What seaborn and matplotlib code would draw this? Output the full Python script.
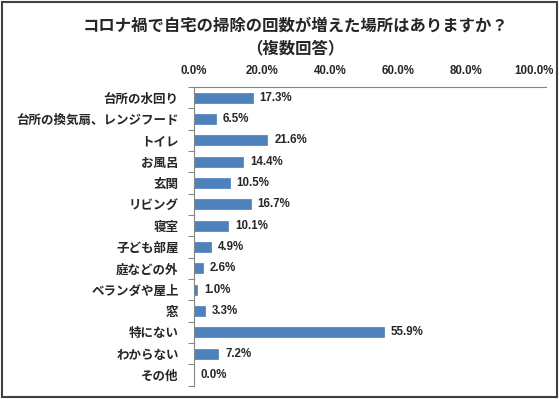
import matplotlib
matplotlib.use("Agg")
import matplotlib.pyplot as plt
import seaborn as sns
import pandas as pd
from matplotlib.patches import Rectangle

# ===== データ =====
categories = ['台所の水回り', '台所の換気扇、レンジフード', 'トイレ', 'お風呂', '玄関',
              'リビング', '寝室', '子ども部屋', '庭などの外', 'ベランダや屋上',
              '窓', '特にない', 'わからない', 'その他']
values = [17.3, 6.5, 21.6, 14.4, 10.5, 16.7, 10.1, 4.9, 2.6, 1.0, 3.3, 55.9, 7.2, 0.0]
x_ticks = [0, 20, 40, 60, 80, 100]
title_lines = ['コロナ禍で自宅の掃除の回数が増えた場所はありますか？', '（複数回答）']

sns.set_theme(style="white")
plt.rcParams['font.family'] = ['Noto Sans CJK JP', 'DejaVu Sans']

df = pd.DataFrame({'cat': categories, 'val': values})

fig = plt.figure(figsize=(5.59, 3.99), dpi=100)
ax = fig.add_axes([0.347, 0.033, 0.977 - 0.347, 0.782 - 0.033])

sns.barplot(data=df, y='cat', x='val', orient='h', color='#4F81BD',
            width=0.47, edgecolor='#4A7EBB', linewidth=0.5, ax=ax, saturation=1)

ax.set_xlim(0, 103.5)
ax.set_xticks(x_ticks)
ax.set_xticklabels([f'{t:.1f}%' for t in x_ticks], fontsize=8.3, fontweight='bold',
                   family=['Liberation Sans', 'DejaVu Sans'])
ax.xaxis.tick_top()
ax.tick_params(axis='x', length=0, pad=7)
ax.set_ylim(len(categories) - 0.5, -0.5)
ax.set_yticks(range(len(categories)))
ax.set_yticklabels(categories, fontsize=9, fontweight='bold')
ax.tick_params(axis='y', length=0, pad=11)
# 区切りの目盛り
ax.set_yticks([i - 0.5 for i in range(len(categories) + 1)], minor=True)
ax.tick_params(axis='y', which='minor', left=True, length=4, color='#868686', width=0.8)
ax.set_xlabel('')
ax.set_ylabel('')

for s in ['right', 'bottom']:
    ax.spines[s].set_visible(False)
for s in ['top', 'left']:
    ax.spines[s].set_color('#868686')
    ax.spines[s].set_linewidth(0.8)

for i, v in enumerate(values):
    ax.text(v + 2.0, i, f'{v:.1f}%', va='center', ha='left', fontsize=8.3,
            fontweight='bold', family=['Liberation Sans', 'DejaVu Sans'])

fig.text(0.528, 0.937, title_lines[0], ha='center', va='center', fontsize=11.8, fontweight='bold')
fig.text(0.528, 0.880, title_lines[1], ha='center', va='center', fontsize=11.8, fontweight='bold')

fig.patches.append(Rectangle((0.003, 0.004), 0.994, 0.992, transform=fig.transFigure,
                             fill=False, edgecolor='#404040', linewidth=1.5))

fig.savefig('out.png', dpi=100)
